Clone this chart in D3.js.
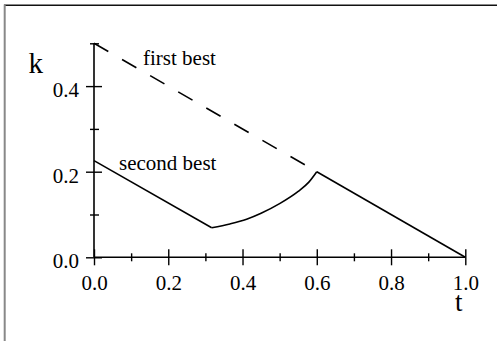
<!DOCTYPE html>
<html>
<head>
<meta charset="utf-8">
<script src="https://cdn.jsdelivr.net/npm/d3@7"></script>
<style>
  html, body { margin: 0; padding: 0; background: #fff; }
  svg { display: block; }
  text { font-family: "Liberation Serif", "Times New Roman", Times, serif; fill: #000; }
</style>
</head>
<body>
<svg id="chart" width="498" height="341"></svg>
<script>
// Axis ticks
const tMajorTicks = [0, 0.2, 0.4, 0.6, 0.8, 1.0];
const tMinorTicks = [0.1, 0.3, 0.5, 0.7, 0.9];
const kMajorTicks = [0, 0.2, 0.4];
const kMinorTicks = [0.1, 0.3, 0.5];

// First-best path (dashed until it meets the second-best path)
const firstBestT = [0, 0.6];
const firstBestK = [0.5, 0.2];

// Second-best path: falling segment, convex rise, then the common tail
const secondFallT = [0, 0.317];
const secondFallK = [0.226, 0.069];
const secondRiseT = [0.317, 0.366, 0.411, 0.45, 0.501, 0.55, 0.578, 0.6];
const secondRiseK = [0.069, 0.078, 0.089, 0.103, 0.126, 0.154, 0.175, 0.2];
const tailT = [0.6, 1.0];
const tailK = [0.2, 0.0];

const svg = d3.select("#chart");

// outer frame: dark top edge, grey left edge
svg.append("line").attr("x1", 4).attr("x2", 497).attr("y1", 5.2).attr("y2", 5.2)
  .attr("stroke", "#111").attr("stroke-width", 1.6);
svg.append("line").attr("x1", 4.7).attr("x2", 4.7).attr("y1", 4.5).attr("y2", 341)
  .attr("stroke", "#888").attr("stroke-width", 2);

const x = d3.scaleLinear().domain([0, 1]).range([94, 465.3]);
const y = d3.scaleLinear().domain([0, 0.5]).range([257.3, 43.3]);

const axisStroke = 1.6;

// x axis
const gx = svg.append("g").attr("transform", `translate(0,${y(0)})`);
gx.call(d3.axisBottom(x).tickValues(tMajorTicks).tickFormat(d3.format(".1f")).tickSize(8).tickPadding(10))
  .call(g => g.select(".domain").attr("d", `M${x(0)},0H${x(1)}`).attr("stroke-width", axisStroke))
  .call(g => g.selectAll(".tick line").attr("y1", -8).attr("y2", 8).attr("stroke-width", 1.4))
  .call(g => g.selectAll(".tick text").attr("font-size", 21).attr("font-family", null));
const gxMinor = svg.append("g").attr("transform", `translate(0,${y(0)})`);
gxMinor.call(d3.axisBottom(x).tickValues(tMinorTicks).tickFormat("").tickSize(4))
  .call(g => g.select(".domain").remove())
  .call(g => g.selectAll(".tick line").attr("y1", -4).attr("y2", 4).attr("stroke-width", 1.4));

// y axis
const gy = svg.append("g").attr("transform", `translate(${x(0)},0)`);
gy.call(d3.axisLeft(y).tickValues(kMajorTicks).tickFormat(d3.format(".1f")).tickSize(8).tickPadding(7))
  .call(g => g.select(".domain").attr("d", `M0,${y(0)}V${y(0.5)}`).attr("stroke-width", axisStroke))
  .call(g => g.selectAll(".tick line").attr("x1", -8).attr("x2", 8).attr("stroke-width", 1.4))
  .call(g => g.selectAll(".tick text").attr("font-size", 21).attr("font-family", null).attr("dy", "0.5em"));
const gyMinor = svg.append("g").attr("transform", `translate(${x(0)},0)`);
gyMinor.call(d3.axisLeft(y).tickValues(kMinorTicks).tickFormat("").tickSize(4))
  .call(g => g.select(".domain").remove())
  .call(g => g.selectAll(".tick line").attr("x1", -4).attr("x2", 5).attr("stroke-width", 1.4));

// axis titles
svg.append("text").attr("x", 28.5).attr("y", 73).attr("font-size", 29).text("k");
svg.append("text").attr("x", 455).attr("y", 310.5).attr("font-size", 27).text("t");

const toPts = (ts, ks) => ts.map((t, i) => [t, ks[i]]);
const linear = d3.line().x(d => x(d[0])).y(d => y(d[1]));
const smooth = d3.line().x(d => x(d[0])).y(d => y(d[1])).curve(d3.curveMonotoneX);

// first best (dashed)
svg.append("path").attr("d", linear(toPts(firstBestT, firstBestK)))
  .attr("fill", "none").attr("stroke", "#000").attr("stroke-width", 1.6)
  .attr("stroke-dasharray", "16.5,15.9");

// second best and common tail (solid)
[[linear, secondFallT, secondFallK], [smooth, secondRiseT, secondRiseK], [linear, tailT, tailK]]
  .forEach(([gen, ts, ks]) => {
    svg.append("path").attr("d", gen(toPts(ts, ks)))
      .attr("fill", "none").attr("stroke", "#000").attr("stroke-width", 1.6)
      .attr("stroke-linejoin", "round");
  });

// curve labels
svg.append("text").attr("x", 143).attr("y", 65).attr("font-size", 21).text("first best");
svg.append("text").attr("x", 119).attr("y", 170).attr("font-size", 21).text("second best");
</script>
</body>
</html>
